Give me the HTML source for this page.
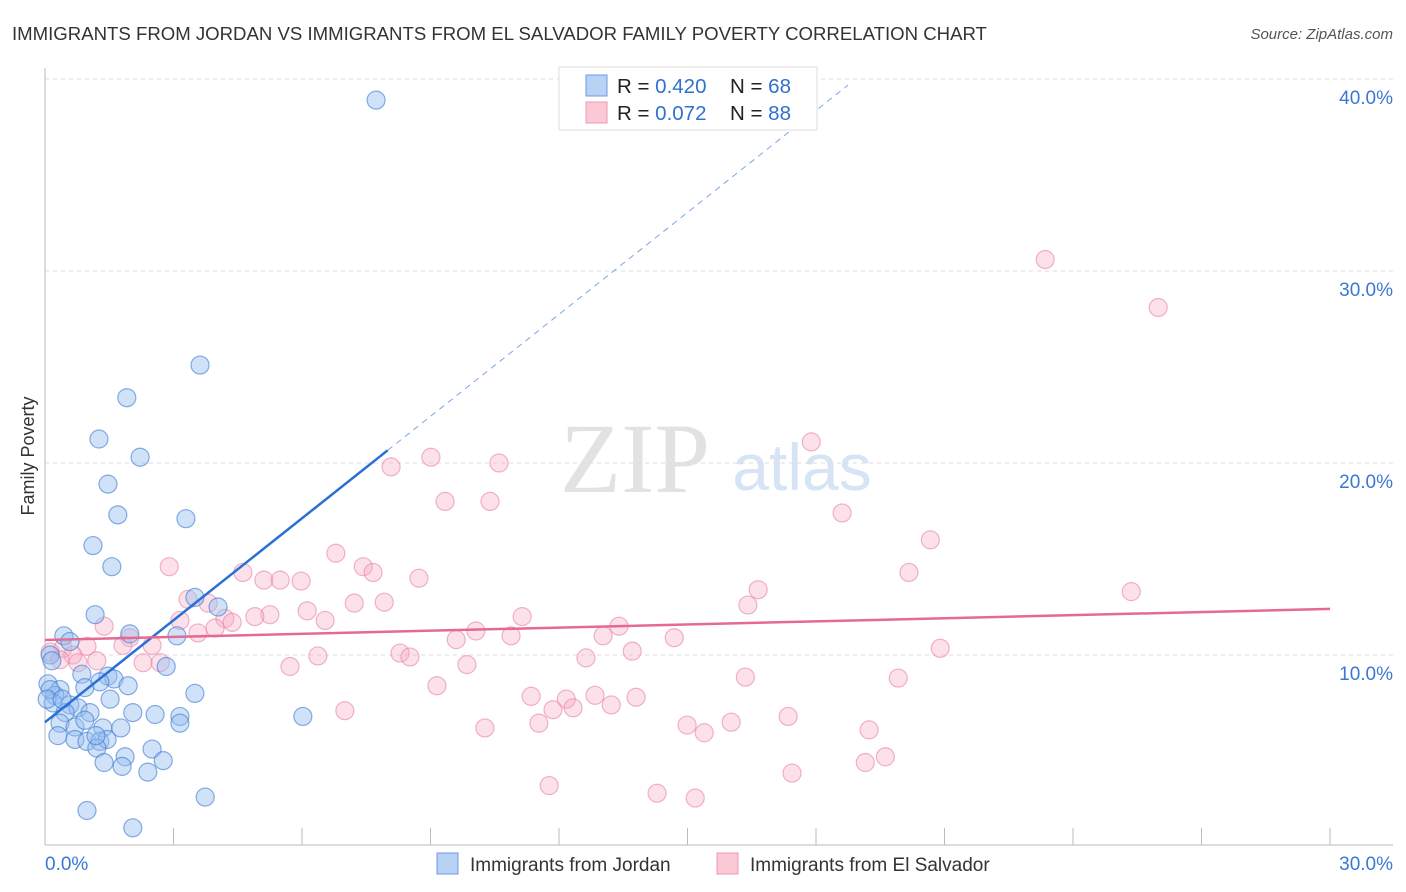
<!DOCTYPE html>
<html><head><meta charset="utf-8"><style>
body{margin:0;background:#fff;font-family:"Liberation Sans",sans-serif;}
</style></head><body>
<svg id="chart" width="1406" height="892" style="position:absolute;left:0;top:0">
<text x="12" y="40" font-size="18.6" fill="#333">IMMIGRANTS FROM JORDAN VS IMMIGRANTS FROM EL SALVADOR FAMILY POVERTY CORRELATION CHART</text>
<text x="1393" y="39" font-size="15" fill="#555" text-anchor="end" font-style="italic">Source: ZipAtlas.com</text>
<text x="635" y="492" font-size="100" fill="#e2e2e2" text-anchor="middle" font-family="Liberation Serif,serif">ZIP</text>
<text x="802" y="490" font-size="66" fill="#d6e4f5" text-anchor="middle">atlas</text>
<text transform="translate(34,456) rotate(-90)" font-size="18" fill="#333" text-anchor="middle">Family Poverty</text>
<g id="grid"></g><g id="axes"></g><g id="pts"></g><g id="lines"></g>
<g>
<rect x="559" y="67" width="258" height="63" fill="#fff" stroke="#ddd"/>
<rect x="586" y="75" width="21" height="21" fill="#b8d2f5" stroke="#6a9be0"/>
<rect x="586" y="102" width="21" height="21" fill="#fbc8d6" stroke="#ec98b2"/>
<text x="617" y="93" font-size="20.5" fill="#222">R = <tspan fill="#3070d0">0.420</tspan></text>
<text x="730" y="93" font-size="20.5" fill="#222">N = <tspan fill="#3070d0">68</tspan></text>
<text x="617" y="120" font-size="20.5" fill="#222">R = <tspan fill="#3070d0">0.072</tspan></text>
<text x="730" y="120" font-size="20.5" fill="#222">N = <tspan fill="#3070d0">88</tspan></text>
</g>
<g>
<rect x="437" y="853" width="21" height="21" fill="#b8d2f5" stroke="#6a9be0"/>
<text x="470" y="871" font-size="19" fill="#333">Immigrants from Jordan</text>
<rect x="717" y="853" width="21" height="21" fill="#fbc8d6" stroke="#ec98b2"/>
<text x="750" y="871" font-size="19" fill="#333">Immigrants from El Salvador</text>
</g>
</svg>
<script>
const yTicks=[10,20,30,40];
const yTickLabels=["10.0%","20.0%","30.0%","40.0%"];
const xTickCount=10;
const blueX=[7.73,3.62,1.91,1.26,2.22,1.47,1.70,3.29,1.12,1.56,1.17,3.50,4.04,3.08,1.98,0.44,0.58,0.12,2.83,0.86,1.47,1.61,1.28,0.93,1.94,0.07,0.35,0.23,3.50,0.19,0.58,0.77,0.47,1.05,2.05,2.57,3.15,6.02,3.15,0.35,0.70,1.35,1.77,0.30,0.70,0.98,1.28,1.45,1.21,2.50,1.87,1.38,2.76,1.80,2.40,3.74,0.98,2.05,0.12,0.05,0.16,0.40,0.93,1.52,1.19];
const blueY=[38.9,25.1,23.4,21.25,20.3,18.9,17.3,17.1,15.7,14.6,12.1,13.0,12.5,11.0,11.1,11.0,10.7,10.0,9.4,9.0,8.9,8.75,8.6,8.3,8.4,8.5,8.2,7.9,8.0,7.5,7.4,7.25,7.0,7.0,7.0,6.9,6.8,6.8,6.45,6.45,6.25,6.2,6.2,5.8,5.6,5.5,5.5,5.6,5.15,5.1,4.7,4.4,4.5,4.2,3.9,2.6,1.9,1.0,8.2,7.7,9.7,7.7,6.6,7.7,5.8];
const pinkX=[23.35,25.99,17.89,9.01,10.60,8.08,9.34,10.39,18.61,20.67,6.79,2.90,7.43,7.66,4.62,5.11,5.49,5.98,8.73,20.17,16.65,25.36,3.34,3.81,7.22,7.92,16.41,6.12,5.25,4.90,3.15,4.20,4.37,6.54,11.14,13.40,3.97,1.38,3.57,10.06,10.88,13.03,9.60,14.69,1.98,1.82,2.50,0.98,0.42,20.9,13.71,0.12,0.65,8.29,8.52,6.37,12.63,0.77,1.21,0.35,2.29,2.69,5.72,9.85,16.35,19.92,9.15,11.35,12.84,12.17,13.80,13.22,12.33,11.86,7.0,17.35,11.53,14.99,16.02,10.27,19.24,15.39,19.62,19.15,17.44,11.77,14.29,15.18];
const pinkY=[30.6,28.1,21.1,20.3,20.0,19.8,18.0,18.0,17.4,16.0,15.3,14.6,14.6,14.3,14.3,13.9,13.9,13.85,14.0,14.3,13.4,13.3,12.9,12.7,12.7,12.75,12.6,12.3,12.1,12.0,11.8,11.9,11.7,11.8,12.0,11.5,11.4,11.5,11.15,11.25,11.0,11.0,10.8,10.9,10.9,10.5,10.5,10.45,10.35,10.35,10.2,10.15,10.0,10.1,9.9,9.95,9.85,9.6,9.7,9.75,9.6,9.6,9.4,9.5,8.85,8.8,8.4,7.85,7.9,7.7,7.8,7.4,7.25,7.15,7.1,6.8,6.45,6.35,6.5,6.2,6.1,5.95,4.7,4.4,3.85,3.2,2.8,2.55];
const blueTrend=[6.5,1.77];   // intercept, slope
const pinkTrend=[10.78,0.054];
const blueSolidEnd=8.0, blueDashEnd=18.75;

const X0=45,X1=1330,Y0=847,PPY=19.2;
const sx=v=>X0+(v/30)*(X1-X0);
const sy=v=>Y0-v*PPY;
const NS="http://www.w3.org/2000/svg";
function mk(tag,attrs,parent){const e=document.createElementNS(NS,tag);for(const k in attrs)e.setAttribute(k,attrs[k]);document.getElementById(parent).appendChild(e);return e;}

yTicks.forEach((t,i)=>{
  const g=mk('line',{x1:X0,x2:1393,y1:sy(t),y2:sy(t),stroke:'#ddd','stroke-dasharray':'4,4'},'grid');
  
  
  const l=mk('text',{x:1393,y:sy(t)+25,'font-size':19,fill:'#3a78d4','text-anchor':'end'},'grid');
  l.textContent=yTickLabels[i];
  
  
});
const ax=mk('line',{x1:X0,x2:1393,y1:845,y2:845,stroke:'#bbb'},'axes');


const ay=mk('line',{x1:X0,x2:X0,y1:68,y2:845,stroke:'#bbb'},'axes');


for(let i=0;i<=xTickCount;i++){
  const x=X0+i*(X1-X0)/xTickCount;
  const t=mk('line',{x1:x,x2:x,y1:828,y2:845,stroke:'#bbb'},'axes');
  
  
}
const xl0=mk('text',{x:45,y:870,'font-size':19,fill:'#3a78d4'},'axes');xl0.textContent='0.0%';


const xl1=mk('text',{x:1393,y:870,'font-size':19,fill:'#3a78d4','text-anchor':'end'},'axes');xl1.textContent='30.0%';



pinkX.forEach((v,i)=>{
  const c=mk('circle',{cx:sx(v),cy:sy(pinkY[i]),r:9,fill:'rgba(245,170,195,0.35)',stroke:'rgba(232,130,165,0.6)','stroke-width':1.2},'pts');
  
  
});
blueX.forEach((v,i)=>{
  const c=mk('circle',{cx:sx(v),cy:sy(blueY[i]),r:9,fill:'rgba(150,190,240,0.45)',stroke:'rgba(60,120,210,0.6)','stroke-width':1.2},'pts');
  
  
});
const by=x=>blueTrend[0]+blueTrend[1]*x;
const l1=mk('line',{x1:sx(0),y1:sy(by(0)),x2:sx(blueSolidEnd),y2:sy(by(blueSolidEnd)),stroke:'#2a6fd6','stroke-width':2.5},'lines');


const l2=mk('line',{x1:sx(blueSolidEnd),y1:sy(by(blueSolidEnd)),x2:sx(blueDashEnd),y2:sy(by(blueDashEnd)),stroke:'#7aa6e6','stroke-width':1,'stroke-dasharray':'6,5'},'lines');


const py=x=>pinkTrend[0]+pinkTrend[1]*x;
const l3=mk('line',{x1:sx(0),y1:sy(py(0)),x2:sx(30),y2:sy(py(30)),stroke:'#e46a94','stroke-width':2.5},'lines');


</script>
</body></html>
